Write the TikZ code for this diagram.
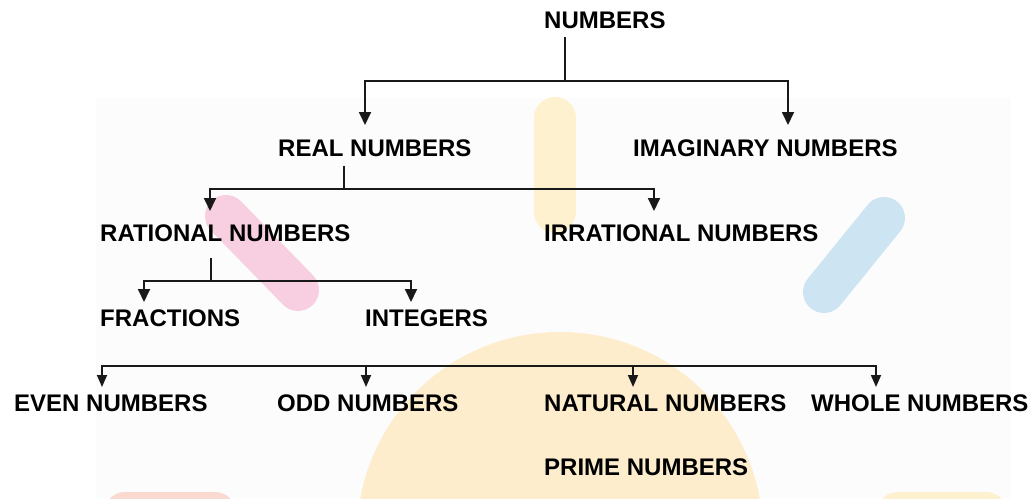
\documentclass[tikz,border=0pt]{standalone}
\usepackage{fontspec}
\setmainfont{Liberation Sans}
\usetikzlibrary{arrows.meta}
\definecolor{wmyellow}{HTML}{FDEDCD}
\definecolor{wmyellowpill}{HTML}{FDF1D0}
\definecolor{wmpink}{HTML}{F7CFE1}
\definecolor{wmblue}{HTML}{CDE5F2}
\definecolor{wmsalmon}{HTML}{FADAD0}
\definecolor{wmgray}{HTML}{FCFCFC}
\begin{document}
\begin{tikzpicture}[x=1pt,y=-1pt,
  lbl/.style={inner sep=0pt,anchor=base west,font=\fontsize{24}{28}\selectfont\bfseries,text=black},
  ln/.style={line width=1.8pt,black!90},
  arr/.style={ln,-{Triangle[length=13pt,width=12pt]}},
  arrs/.style={ln,-{Triangle[length=12pt,width=10pt]}},
  pill/.style={line cap=round,line width=42pt}]
\useasboundingbox (0,0) rectangle (1036,498);
\fill[white] (0,0) rectangle (1036,498);
% faint watermark background
\fill[wmgray] (96,98) rectangle (1011,498);
\begin{scope}
\clip (0,0) rectangle (1036,498);
\fill[wmyellow] (560,535) circle[radius=203];
\draw[pill,wmsalmon] (125,513) -- (215,513);
\draw[pill,wmyellowpill] (898,513) -- (986,513);
\end{scope}
\draw[pill,wmyellowpill] (555,118) -- (555,212);
\draw[pill,wmpink] (226,216) -- (298,290);
\draw[pill,wmblue] (884,218) -- (824,292);
% labels
\node[lbl] (numbers) at (544,28) {NUMBERS};
\node[lbl] (real) at (278,156) {REAL NUMBERS};
\node[lbl] (imag) at (633,156) {IMAGINARY NUMBERS};
\node[lbl] (rational) at (100,241) {RATIONAL NUMBERS};
\node[lbl] (irrational) at (544,241) {IRRATIONAL NUMBERS};
\node[lbl] (fractions) at (100,326) {FRACTIONS};
\node[lbl] (integers) at (365,326) {INTEGERS};
\node[lbl] (even) at (14,411) {EVEN NUMBERS};
\node[lbl] (odd) at (277,411) {ODD NUMBERS};
\node[lbl] (natural) at (544,411) {NATURAL NUMBERS};
\node[lbl] (whole) at (811,411) {WHOLE NUMBERS};
\node[lbl] (prime) at (544,475) {PRIME NUMBERS};
% junctions and arrow tips
\coordinate (j1) at (565,81);
\coordinate (tReal) at (365,125);
\coordinate (tImag) at (788,125);
\coordinate (j2) at (344,189);
\coordinate (tRational) at (210,211);
\coordinate (tIrrational) at (654,211);
\coordinate (j3) at (211,281);
\coordinate (tFractions) at (144,302);
\coordinate (tIntegers) at (411,302);
\coordinate (j4) at (490,366);
\coordinate (tEven) at (102,387);
\coordinate (tOdd) at (366,387);
\coordinate (tNatural) at (633,387);
\coordinate (tWhole) at (876,387);
% connectors
\draw[ln] ([yshift=-9pt]numbers.south -| j1) -- (j1);
\draw[arr] (j1) -| (tReal);
\draw[arr] (j1) -| (tImag);
\draw[ln] ([yshift=-10pt]real.south -| j2) -- (j2);
\draw[arr] (j2) -| (tRational);
\draw[arr] (j2) -| (tIrrational);
\draw[ln] ([yshift=-17pt]rational.south -| j3) -- (j3);
\draw[arr] (j3) -| (tFractions);
\draw[arr] (j3) -| (tIntegers);
\draw[arrs] (j4) -| (tEven);
\draw[arrs] (j4) -| (tOdd);
\draw[arrs] (j4) -| (tNatural);
\draw[arrs] (j4) -| (tWhole);
\end{tikzpicture}
\end{document}
